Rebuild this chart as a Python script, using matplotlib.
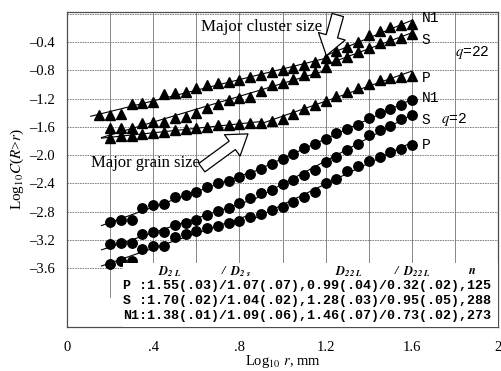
import matplotlib
matplotlib.use("Agg")
import matplotlib.pyplot as plt
import numpy as np
from matplotlib.patches import Rectangle

plt.rcParams['font.family'] = ['Liberation Serif', 'DejaVu Serif']
plt.rcParams['mathtext.fontset'] = 'stix'

# log10 r values (q=22 N1 starts one step earlier)
r_n1_22 = [0.15, 0.20, 0.25, 0.30, 0.35, 0.40, 0.45, 0.50, 0.55, 0.60, 0.65, 0.70, 0.75, 0.80, 0.85,
           0.90, 0.95, 1.00, 1.05, 1.10, 1.15, 1.20, 1.25, 1.30, 1.35, 1.40, 1.45, 1.50, 1.55, 1.60]
r_all = [0.20, 0.25, 0.30, 0.35, 0.40, 0.45, 0.50, 0.55, 0.60, 0.65, 0.70, 0.75, 0.80, 0.85,
         0.90, 0.95, 1.00, 1.05, 1.10, 1.15, 1.20, 1.25, 1.30, 1.35, 1.40, 1.45, 1.50, 1.55, 1.60]

# q = 22 (triangles)
n1_22 = [-1.43, -1.43, -1.42, -1.28, -1.26, -1.25, -1.14, -1.12, -1.10, -1.05, -1.01, -0.985, -0.965, -0.94, -0.89,
         -0.865, -0.82, -0.79, -0.76, -0.73, -0.68, -0.63, -0.53, -0.475, -0.40, -0.30, -0.24, -0.19, -0.165, -0.15]
s_22 = [-1.62, -1.62, -1.62, -1.55, -1.53, -1.53, -1.47, -1.46, -1.40, -1.33, -1.27, -1.22, -1.19, -1.175,
        -1.09, -1.01, -0.975, -0.925, -0.87, -0.82, -0.75, -0.655, -0.61, -0.54, -0.49, -0.41, -0.37, -0.34, -0.29]
p_22 = [-1.75, -1.73, -1.73, -1.70, -1.68, -1.67, -1.64, -1.63, -1.61, -1.60, -1.58, -1.57, -1.56, -1.54,
        -1.54, -1.51, -1.49, -1.42, -1.35, -1.29, -1.23, -1.16, -1.10, -1.05, -0.99, -0.94, -0.905, -0.89, -0.88]

# q = 2 (circles)
n1_2 = [-2.95, -2.91, -2.91, -2.75, -2.70, -2.69, -2.59, -2.57, -2.52, -2.45, -2.40, -2.36, -2.31, -2.26,
        -2.19, -2.12, -2.05, -1.98, -1.905, -1.835, -1.765, -1.69, -1.635, -1.576, -1.475, -1.405, -1.35, -1.285, -1.225]
s_2 = [-3.25, -3.24, -3.24, -3.12, -3.09, -3.09, -2.99, -2.96, -2.91, -2.85, -2.79, -2.74, -2.68, -2.61,
       -2.54, -2.49, -2.41, -2.345, -2.285, -2.21, -2.095, -2.02, -1.93, -1.835, -1.717, -1.646, -1.59, -1.49, -1.434]
p_2 = [-3.54, -3.50, -3.49, -3.32, -3.29, -3.29, -3.16, -3.12, -3.07, -3.03, -3.00, -2.96, -2.93, -2.88,
       -2.826, -2.78, -2.733, -2.662, -2.591, -2.52, -2.40, -2.33, -2.23, -2.155, -2.08, -2.02, -1.96, -1.91, -1.85]

table_rows = ["P :1.55(.03)/1.07(.07),0.99(.04)/0.32(.02),125",
              "S :1.70(.02)/1.04(.02),1.28(.03)/0.95(.05),288",
              "N1:1.38(.01)/1.09(.06),1.46(.07)/0.73(.02),273"]

fig = plt.figure(figsize=(5.02, 3.71), dpi=100)
ax = fig.add_axes([0.1335, 0.1186, 0.8586, 0.849])
ax.set_xlim(0, 2)
ax.set_ylim(-4.43, 0.025)

# grid
for gx in np.arange(0.2, 1.95, 0.2):
    ax.plot([gx, gx], [-4.0, 0.025], color='0.45', lw=0.6, zorder=0)
for gy in [0.0, -0.4, -0.8, -1.2, -1.6, -2.0, -2.4, -2.8, -3.2, -3.6]:
    ax.axhline(gy, color='0.45', lw=0.6, ls=(0, (2, 1)), zorder=0)


def fit_line(x, y, brk):
    x = np.array(x)
    y = np.array(y)
    for sel, lo, hi in [(x <= brk + 1e-9, x.min() - 0.04, brk),
                        (x >= brk - 1e-9, brk, x.max())]:
        k, b = np.polyfit(x[sel], y[sel], 1)
        ax.plot([lo, hi], [k * lo + b, k * hi + b], color='black', lw=0.8, zorder=2)


series = [(r_n1_22, n1_22, '^', 1.2), (r_all, s_22, '^', 1.2), (r_all, p_22, '^', 0.9),
          (r_all, n1_2, 'o', 0.85), (r_all, s_2, 'o', 0.85), (r_all, p_2, 'o', 0.85)]
for xs, ys, m, brk in series:
    fit_line(xs, ys, brk)
    ax.plot(xs, ys, ls='none', marker=m, color='black', ms=6.6 if m == '^' else 6.8, zorder=3)

# white area behind the table
ax.add_patch(Rectangle((0.26, -4.43), 1.74, 0.90, facecolor='white', edgecolor='none', zorder=4))

mono = ['Liberation Mono', 'DejaVu Sans Mono']
for lab, xx, yy in [("N1", 1.645, -0.06), ("S", 1.645, -0.37), ("P", 1.645, -0.91),
                    ("N1", 1.645, -1.19), ("S", 1.645, -1.50), ("P", 1.645, -1.86)]:
    ax.text(xx, yy, lab, family=mono, fontsize=10.5, ha='left', va='center', zorder=5)
ax.text(1.80, -0.55, r"$q$=22", family=mono, fontsize=10.5, ha='left', va='center', zorder=5)
ax.text(1.735, -1.50, r"$q$=2", family=mono, fontsize=10.5, ha='left', va='center', zorder=5)

# table
for i, row in enumerate(table_rows):
    ax.text(0.262, -3.845 - 0.212 * i, row, family=mono, fontweight='bold', fontsize=9.6,
            ha='left', va='center', zorder=5)
hdr_y = -3.645
for txt, xx in [(r"$\mathbfit{D}_{\mathbfit{2\ L}}$", 0.42), ("/", 0.72), (r"$\mathbfit{D}_{\mathbfit{2\ s}}$", 0.755),
                (r"$\mathbfit{D}_{\mathbfit{22\ L}}$", 1.245), ("/", 1.52), (r"$\mathbfit{D}_{\mathbfit{22\ L}}$", 1.56),
                (r"$\mathbfit{n}$", 1.86)]:
    ax.text(xx, hdr_y, txt, fontsize=9, fontweight='bold', style='italic', ha='left', va='center', zorder=5)

# annotations
ax.text(1.185, -0.19, "Major cluster size", fontsize=12.2, ha='right', va='center', zorder=5)
ax.annotate("", xy=(1.20, -0.63), xytext=(1.26, 0.02),
            arrowprops=dict(arrowstyle="simple,head_length=1.45,head_width=2.0,tail_width=0.85",
                            fc='white', ec='black', lw=0.9), zorder=6)
ax.text(0.11, -2.115, "Major grain size", fontsize=12, ha='left', va='center', zorder=5)
ax.annotate("", xy=(0.85, -1.675), xytext=(0.615, -2.2),
            arrowprops=dict(arrowstyle="simple,head_length=1.4,head_width=1.9,tail_width=0.75",
                            fc='white', ec='black', lw=0.9), zorder=6)

ax.set_xticks([0, 0.4, 0.8, 1.2, 1.6, 2.0])
ax.set_xticklabels(["0", ".4", ".8", "1.2", "1.6", "2"])
ax.set_yticks([-0.4, -0.8, -1.2, -1.6, -2.0, -2.4, -2.8, -3.2, -3.6])
ax.set_yticklabels(["\u20130.4", "\u20130.8", "\u20131.2", "\u20131.6", "\u20132.0",
                    "\u20132.4", "\u20132.8", "\u20133.2", "\u20133.6"])
ax.tick_params(length=0, labelsize=10.5)
ax.tick_params(axis='x', pad=10)
ax.tick_params(axis='y', pad=9)
for sp in ax.spines.values():
    sp.set_color('0.3')
    sp.set_linewidth(0.9)

ax.set_xlabel(r"Log$_{10}$ $r$, mm", fontsize=10.5, va='center')
ax.xaxis.set_label_coords(0.5, -0.108)
ax.set_ylabel(r"Log$_{10}$$C$($R$>$r$)", fontsize=11, labelpad=2)

fig.savefig("out.png", dpi=100)
